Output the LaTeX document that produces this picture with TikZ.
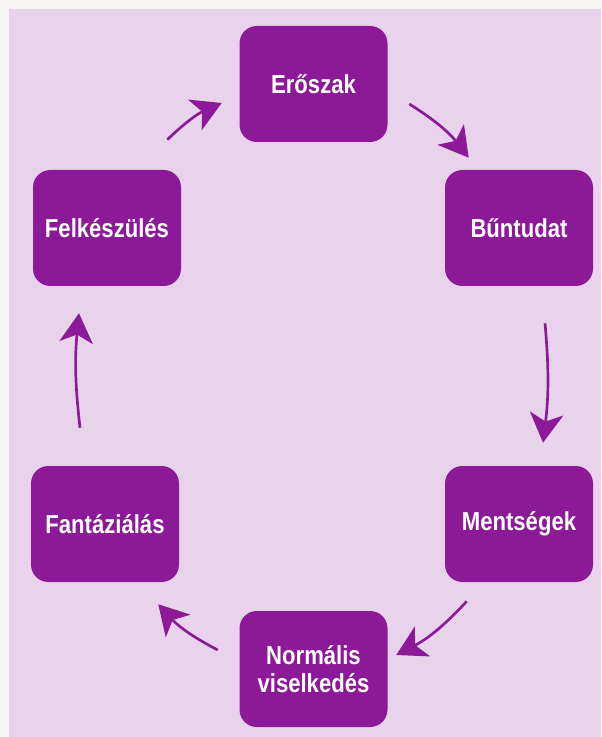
\documentclass[tikz,border=0pt]{standalone}
\usepackage{fontspec}
\newfontfamily\boxfont{Liberation Sans}[FakeStretch=0.85]
\usetikzlibrary{positioning, arrows.meta, calc}
\definecolor{lila}{RGB}{139,25,152}
\definecolor{halvany}{RGB}{232,210,236}
\definecolor{keret}{RGB}{247,245,243}

\begin{document}
\begin{tikzpicture}[x=0.75pt, y=-0.75pt,
        box/.style={fill=lila, rounded corners=13pt, minimum width=111pt, minimum height=87pt,
            align=center, text=white, font=\boxfont\bfseries\fontsize{19.5}{21}\selectfont},
        arr/.style={draw=lila, line width=2pt, -{Stealth[length=22pt, width=25pt, inset=6pt]}}]

        % Háttér
        \fill[keret] (0,0) rectangle (601,737);
        \fill[halvany] (9,9) rectangle (601,737);

        % Dobozok
        \node (eroszak) [box] at (313.5,84) {Erőszak};
        \node (buntudat) [box] at (519,228) {Bűntudat};
        \node (mentsegek) [box] at (519,524) {Mentségek};
        \node (normalis) [box] at (313.5,669) {Normális\\viselkedés};
        \node (fantazia) [box] at (105,524) {Fantáziálás};
        \node (felkeszul) [box] at (107,228) {Felkészülés};

        % Nyilak
        \draw[arr] ($(felkeszul.north east)+(-14,-30)$) to[bend left=10] ($(eroszak.west)+(-17.5,19)$);
        \draw[arr] ($(eroszak.east)+(21.5,20)$) to[bend left=10] ($(buntudat.north west)+(24,-12)$);
        \draw[arr] ($(buntudat.south)+(26,37)$) to[bend left=6] ($(mentsegek.north)+(24,-23)$);
        \draw[arr] ($(mentsegek.south west)+(22,19)$) to[bend left=10] ($(normalis.east)+(8.5,-14)$);
        \draw[arr] ($(normalis.west)+(-21.5,-19)$) to[bend left=10] ($(fantazia.south east)+(-21,22)$);
        \draw[arr] ($(fantazia.north)+(-25,-38)$) to[bend left=6] ($(felkeszul.south)+(-28,27)$);

    \end{tikzpicture}
\end{document}
